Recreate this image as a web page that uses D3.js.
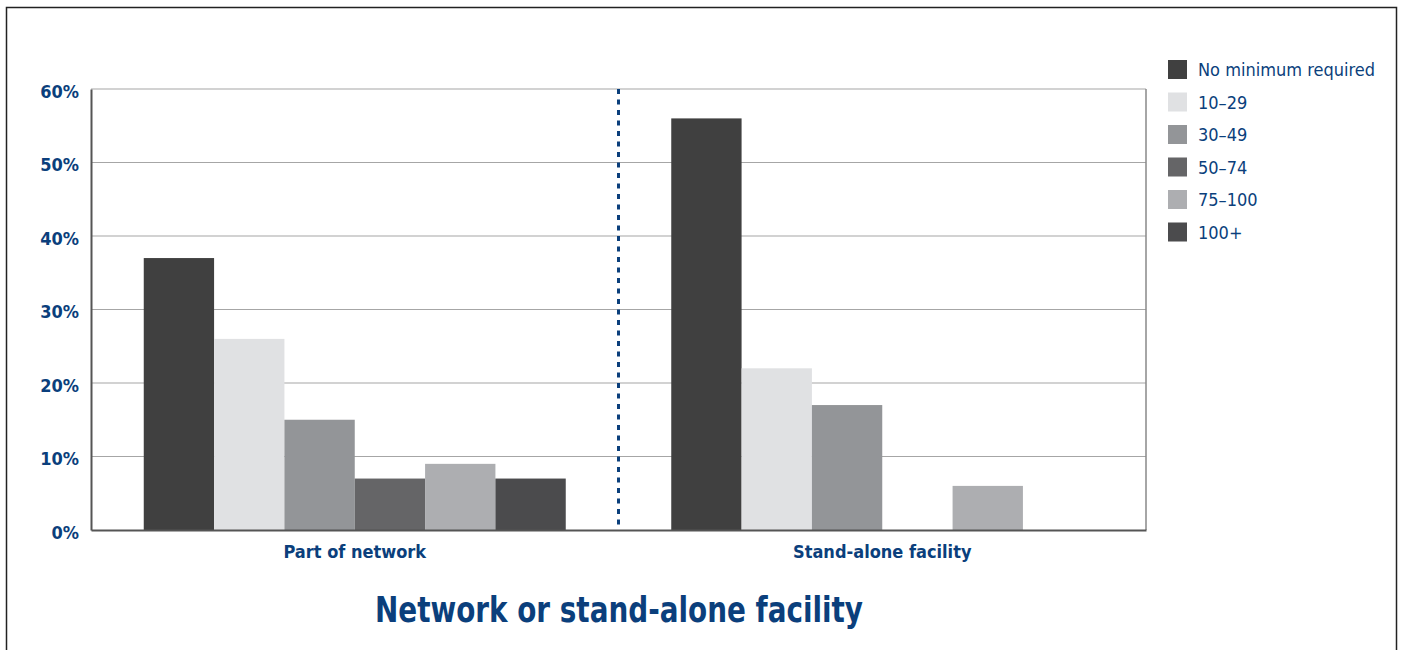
<!DOCTYPE html>
<html>
<head>
<meta charset="utf-8">
<title>Network or stand-alone facility</title>
<script src="https://d3js.org/d3.v7.min.js"></script>
<style>
  body { margin: 0; background: #fff; }
  text { font-family: "Liberation Sans Narrow", "DejaVu Sans Condensed", "Roboto", sans-serif; fill: #0b3f7c; }
  .tick text { font-weight: bold; font-size: 18px; }
  .legend text { font-size: 18px; }
</style>
</head>
<body>
<script>
// data
var categories = ["Part of network", "Stand-alone facility"];
var seriesNames = ["No minimum required", "10\u201329", "30\u201349", "50\u201374", "75\u2013100", "100+"];
var seriesColors = ["#404040", "#e0e1e3", "#939598", "#656567", "#adaeb1", "#4b4b4d"];
var partOfNetwork = [37, 26, 15, 7, 9, 7];
var standAlone = [56, 22, 17, 0, 6, 0];
var yTicks = [0, 10, 20, 30, 40, 50, 60];

var values = [partOfNetwork, standAlone];

var W = 1401, H = 650;
var svg = d3.select("body").append("svg").attr("width", W).attr("height", H);

// outer frame
svg.append("rect")
  .attr("x", 6.5).attr("y", 7.5).attr("width", 1390).attr("height", 700)
  .attr("fill", "none").attr("stroke", "#222").attr("stroke-width", 1.5);

var plotL = 91, plotR = 1146, plotT = 89, plotB = 530;

var x0 = d3.scaleBand().domain(categories).range([plotL, plotR]).paddingInner(0.2).paddingOuter(0.1);
var x1 = d3.scaleBand().domain(d3.range(seriesNames.length)).range([0, x0.bandwidth()]);
var y = d3.scaleLinear().domain([0, 60]).range([plotB, plotT]);

// gridlines
svg.append("g").selectAll("line").data(yTicks.filter(function(d) { return d > 0; }))
  .enter().append("line")
  .attr("x1", plotL).attr("x2", plotR)
  .attr("y1", function(d) { return y(d); }).attr("y2", function(d) { return y(d); })
  .attr("stroke", "#a6a6a6").attr("stroke-width", 1.2);

// right border of plot
svg.append("line").attr("x1", plotR).attr("x2", plotR).attr("y1", plotT).attr("y2", plotB)
  .attr("stroke", "#888").attr("stroke-width", 1.5);

// bars
var groups = svg.append("g").selectAll("g").data(categories).enter().append("g")
  .attr("transform", function(d) { return "translate(" + x0(d) + ",0)"; });

groups.selectAll("rect").data(function(d, i) { return values[i]; })
  .enter().append("rect")
  .attr("x", function(d, j) { return x1(j); })
  .attr("width", x1.bandwidth())
  .attr("y", function(d) { return y(d); })
  .attr("height", function(d) { return plotB - y(d); })
  .attr("fill", function(d, j) { return seriesColors[j]; });

// divider
var mid = (x0(categories[0]) + x0.bandwidth() + x0(categories[1])) / 2;
svg.append("line").attr("x1", mid).attr("x2", mid).attr("y1", plotT).attr("y2", plotB)
  .attr("stroke", "#0b3f7c").attr("stroke-width", 3).attr("stroke-dasharray", "5,5.5");

// y axis
var yAxis = d3.axisLeft(y).tickValues(yTicks).tickSize(0).tickPadding(12)
  .tickFormat(function(d) { return d + "%"; });
var ya = svg.append("g").attr("transform", "translate(" + plotL + ",0)").call(yAxis);
ya.select(".domain").attr("stroke", "#555").attr("stroke-width", 2);
ya.selectAll(".tick text").attr("dy", "0.45em");

// x axis
var xAxis = d3.axisBottom(x0).tickSize(0).tickPadding(12);
var xa = svg.append("g").attr("transform", "translate(0," + plotB + ")").call(xAxis);
xa.select(".domain").attr("stroke", "#555").attr("stroke-width", 2);
xa.selectAll(".tick text").attr("font-size", "17px").attr("dy", "0.9em");

// title (condensed to the original width)
svg.append("text").attr("x", 619).attr("y", 622).attr("text-anchor", "middle")
  .attr("font-size", "35px").attr("font-weight", "bold")
  .attr("textLength", 488).attr("lengthAdjust", "spacingAndGlyphs")
  .text("Network or stand-alone facility");

// legend
var legend = svg.append("g").attr("class", "legend").selectAll("g").data(seriesNames)
  .enter().append("g")
  .attr("transform", function(d, i) { return "translate(1168," + (60 + i * 32.5) + ")"; });
legend.append("rect").attr("width", 19).attr("height", 19)
  .attr("fill", function(d, i) { return seriesColors[i]; });
legend.append("text").attr("x", 30).attr("y", 10).attr("dy", "0.36em").text(function(d) { return d; });
</script>
</body>
</html>
